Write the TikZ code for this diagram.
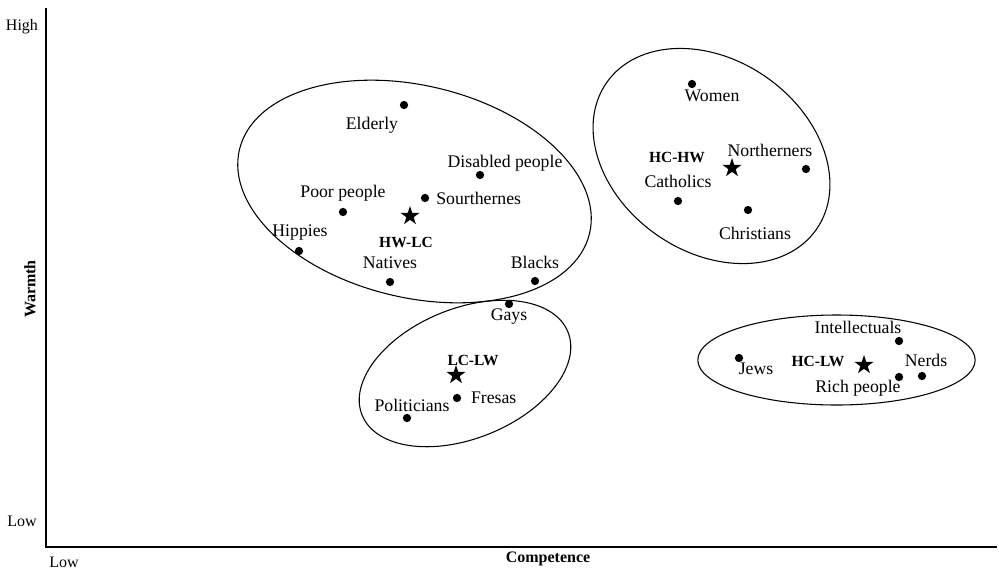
\documentclass[tikz,border=0pt]{standalone}
\usepackage{fontspec}
\setmainfont{Liberation Serif}
\usetikzlibrary{shapes.geometric, positioning}

\tikzset{
  dot/.style={circle, fill=black, inner sep=0pt, minimum size=6.2pt},
  centre/.style={star, star points=5, star point ratio=2.6, fill=black, inner sep=0pt, minimum size=15pt},
  group/.style={ellipse, draw=black, line width=0.8pt, inner sep=0pt},
  item/.style={inner sep=0pt, font=\fontsize{13.3}{15}\selectfont},
  tag/.style={inner sep=0pt, font=\fontsize{11.6}{13}\selectfont\bfseries},
  axislbl/.style={inner sep=0pt, font=\fontsize{12}{14}\selectfont},
}

\begin{document}
\begin{tikzpicture}[x=0.75pt, y=-0.75pt]
    \useasboundingbox (0,0) rectangle (999,569);

    % Define axes
    \coordinate (origin) at (46,547);
    \coordinate (yend) at (46,8);
    \coordinate (xend) at (997,547);
    \draw[line width=1.1pt] (yend) -- (origin) -- (xend);
    \node[axislbl] (high) at (22,27) {High};
    \node[axislbl] (lowy) at (22,521) {Low};
    \node[axislbl] (lowx) at (64,562) {Low};
    \node[axislbl, font=\fontsize{12}{14}\selectfont\bfseries] (comp) at (548,559) {Competence};
    \node[axislbl, font=\fontsize{12}{14}\selectfont\bfseries, rotate=90] (warm) at (30,289) {Warmth};

    % Define clusters
    \node[group, minimum width=270pt, minimum height=159pt, rotate=-13.5] (hwlc) at (414.5,191.5) {};
    \node[group, minimum width=192pt, minimum height=144pt, rotate=-35] (hchw) at (711.5,156) {};
    \node[group, minimum width=166.5pt, minimum height=97.5pt, rotate=22] (lclw) at (465,373.5) {};
    \node[group, minimum width=208pt, minimum height=67.5pt] (hclw) at (836.5,360) {};

    % HW-LC
    \node[centre] (s1) at (410,216) {};
    \node[tag] (s1l) at (406,242) {HW-LC};
    \node[dot] (elderly) at (404,105) {};
    \node[item] (elderlyl) at (372,125) {Elderly};
    \node[dot] (disabled) at (480,175) {};
    \node[item] (disabledl) at (505,163) {Disabled people};
    \node[dot] (south) at (425,198) {};
    \node[item, right=5pt of south] (southl) {Sourthernes};
    \node[dot] (poor) at (343,212) {};
    \node[item] (poorl) at (343,193) {Poor people};
    \node[dot] (hippies) at (299,251) {};
    \node[item] (hippiesl) at (300,233) {Hippies};
    \node[dot] (natives) at (390,282) {};
    \node[item] (nativesl) at (390,263) {Natives};
    \node[dot] (blacks) at (535,281) {};
    \node[item] (blacksl) at (535,262) {Blacks};

    % LC-LW
    \node[centre] (s2) at (456,375) {};
    \node[tag] (s2l) at (473,360) {LC-LW};
    \node[dot] (gays) at (509,304) {};
    \node[item] (gaysl) at (509,317) {Gays};
    \node[dot] (fresas) at (457,398) {};
    \node[item, right=7pt of fresas] (fresasl) {Fresas};
    \node[dot] (pol) at (407,418) {};
    \node[item] (poll) at (412,405) {Politicians};

    % HC-HW
    \node[centre] (s3) at (732,168) {};
    \node[tag] (s3l) at (677,157) {HC-HW};
    \node[dot] (women) at (692,84) {};
    \node[item] (womenl) at (712,96) {Women};
    \node[dot] (north) at (806,169) {};
    \node[item] (northl) at (770,150) {Northerners};
    \node[dot] (cath) at (678,201) {};
    \node[item] (cathl) at (678,181) {Catholics};
    \node[dot] (christ) at (748,210) {};
    \node[item] (christl) at (755,233) {Christians};

    % HC-LW
    \node[centre] (s4) at (864,365) {};
    \node[tag] (s4l) at (818,361) {HC-LW};
    \node[dot] (intel) at (899,341) {};
    \node[item] (intell) at (858,327) {Intellectuals};
    \node[dot] (jews) at (739,358) {};
    \node[item] (jewsl) at (756,369) {Jews};
    \node[dot] (nerds) at (922,376) {};
    \node[item] (nerdsl) at (926,360) {Nerds};
    \node[dot] (rich) at (899,377) {};
    \node[item] (richl) at (858,388) {Rich people};
\end{tikzpicture}
\end{document}
